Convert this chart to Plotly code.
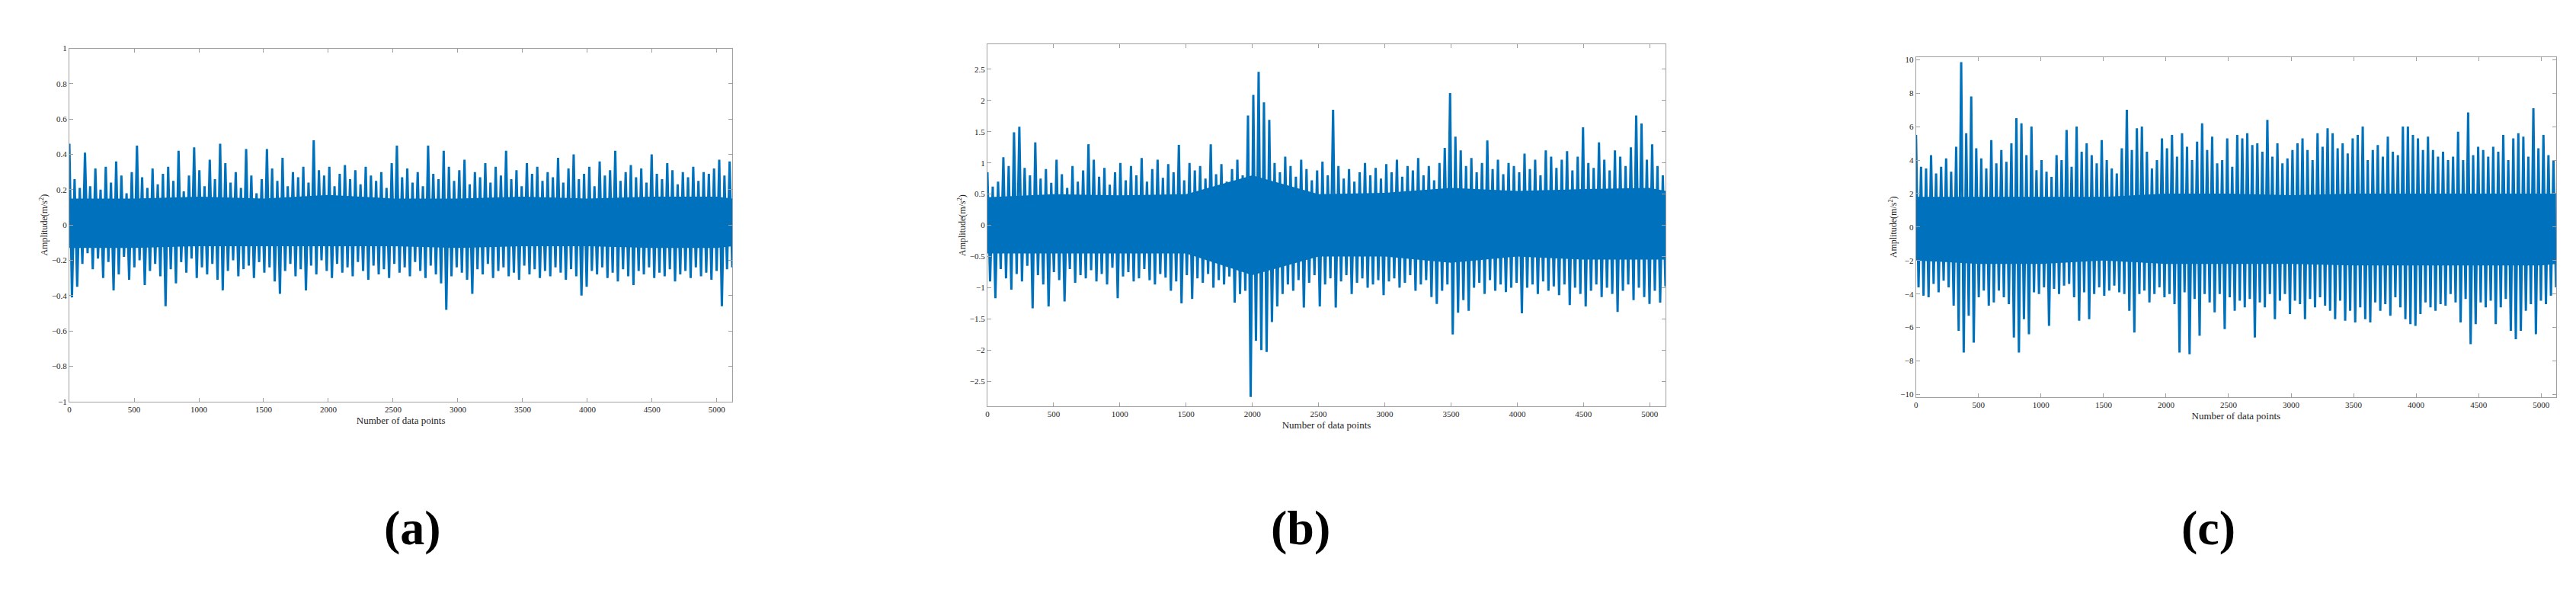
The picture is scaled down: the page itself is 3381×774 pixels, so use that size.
import plotly.graph_objects as go

# Panel (a) local maxima / minima (every ~40 samples)
A_up = [0.46,0.26,0.21,0.41,0.22,0.32,0.20,0.33,0.24,0.36,0.28,0.18,0.30,0.45,0.27,0.21,0.32,0.23,0.29,0.33,0.25,0.42,0.19,0.28,0.44,0.31,0.22,0.37,0.26,0.46,0.35,0.24,0.30,0.21,0.43,0.28,0.18,0.26,0.43,0.32,0.25,0.38,0.22,0.30,0.27,0.33,0.24,0.48,0.31,0.28,0.33,0.22,0.29,0.34,0.26,0.31,0.23,0.33,0.28,0.25,0.30,0.21,0.35,0.45,0.27,0.32,0.24,0.30,0.22,0.45,0.29,0.26,0.42,0.33,0.25,0.31,0.37,0.23,0.30,0.27,0.35,0.24,0.33,0.28,0.42,0.26,0.31,0.22,0.35,0.29,0.33,0.25,0.30,0.27,0.38,0.24,0.32,0.40,0.26,0.29,0.33,0.22,0.36,0.28,0.31,0.42,0.25,0.30,0.34,0.27,0.32,0.24,0.40,0.29,0.26,0.35,0.31,0.23,0.30,0.27,0.33,0.25,0.30,0.29,0.32,0.37,0.28,0.36]
A_dn = [-0.41,-0.35,-0.22,-0.16,-0.25,-0.19,-0.30,-0.21,-0.37,-0.28,-0.18,-0.31,-0.24,-0.20,-0.34,-0.26,-0.22,-0.29,-0.46,-0.25,-0.33,-0.21,-0.27,-0.19,-0.30,-0.24,-0.28,-0.22,-0.31,-0.37,-0.26,-0.20,-0.29,-0.25,-0.23,-0.30,-0.21,-0.27,-0.24,-0.32,-0.39,-0.26,-0.22,-0.29,-0.25,-0.37,-0.23,-0.28,-0.20,-0.26,-0.30,-0.22,-0.27,-0.24,-0.29,-0.21,-0.26,-0.31,-0.23,-0.28,-0.25,-0.30,-0.22,-0.27,-0.24,-0.29,-0.21,-0.26,-0.30,-0.23,-0.28,-0.33,-0.48,-0.29,-0.24,-0.27,-0.31,-0.39,-0.25,-0.28,-0.22,-0.30,-0.26,-0.24,-0.29,-0.27,-0.31,-0.23,-0.28,-0.25,-0.30,-0.26,-0.29,-0.24,-0.27,-0.31,-0.25,-0.29,-0.40,-0.35,-0.26,-0.28,-0.24,-0.30,-0.27,-0.32,-0.25,-0.29,-0.34,-0.26,-0.28,-0.24,-0.30,-0.27,-0.29,-0.25,-0.32,-0.28,-0.26,-0.30,-0.24,-0.29,-0.27,-0.31,-0.26,-0.46,-0.25,-0.24]

# Panel (b)
B_up = [0.85,0.62,0.70,1.09,0.95,1.49,1.58,0.92,0.80,1.33,0.75,0.90,0.68,1.05,0.82,0.60,0.95,0.70,0.88,1.30,1.05,0.78,0.92,0.65,0.85,1.00,0.72,0.95,0.80,1.08,0.70,0.90,1.05,0.76,0.98,0.85,1.29,0.72,1.00,0.88,0.95,0.75,1.30,0.82,0.98,0.70,0.90,1.05,0.80,1.76,2.09,2.46,1.97,1.69,1.00,0.85,1.10,0.95,0.78,1.05,0.90,0.72,0.88,1.02,0.80,1.85,0.95,0.75,0.90,0.70,0.85,1.00,0.80,0.92,0.75,0.98,0.85,1.05,0.78,0.95,0.88,1.08,0.80,0.95,0.72,1.00,1.24,2.12,1.42,1.20,0.95,1.08,0.85,1.00,1.36,0.90,1.05,0.82,1.00,0.95,0.85,1.15,0.90,1.05,0.80,1.20,1.10,0.92,1.05,1.19,0.88,1.10,1.57,1.00,0.92,1.33,1.05,0.88,1.20,1.10,0.95,1.25,1.76,1.63,1.05,1.30,0.95,0.80]
B_dn = [-0.90,-1.17,-0.70,-0.85,-1.03,-0.78,-0.90,-0.65,-1.33,-0.80,-0.95,-1.30,-0.75,-0.88,-1.22,-0.70,-0.92,-0.80,-0.85,-0.72,-0.90,-0.78,-0.95,-0.68,-1.17,-0.82,-0.75,-0.90,-0.85,-0.70,-0.88,-0.95,-0.78,-0.84,-1.05,-0.90,-1.25,-0.80,-1.18,-0.85,-0.92,-0.78,-1.00,-0.88,-0.95,-0.82,-1.24,-1.10,-1.05,-2.75,-1.85,-2.00,-2.03,-1.55,-1.30,-1.10,-0.95,-1.05,-0.88,-1.32,-0.92,-0.80,-1.30,-0.95,-0.85,-1.32,-0.90,-0.80,-1.10,-0.92,-0.85,-1.00,-0.95,-0.88,-1.12,-0.90,-0.85,-1.00,-0.92,-0.80,-1.05,-0.95,-0.88,-1.15,-1.26,-1.05,-0.95,-1.75,-1.40,-1.20,-1.37,-1.00,-0.92,-1.10,-0.88,-1.05,-0.95,-1.07,-1.00,-0.92,-1.41,-1.00,-0.95,-1.10,-0.90,-1.05,-0.98,-1.12,-0.95,-1.28,-1.00,-1.10,-1.30,-1.05,-0.95,-1.15,-1.00,-1.10,-1.39,-1.05,-0.95,-1.20,-1.00,-1.15,-1.26,-1.05,-1.24,-0.98]

# Panel (c)
C_up = [5.5,3.6,3.5,4.3,3.2,3.6,4.1,3.3,4.8,9.85,5.6,7.8,4.7,4.1,3.5,5.2,3.8,4.6,3.9,5.0,6.5,6.2,4.3,6.0,3.4,4.0,3.3,3.0,4.3,4.0,5.8,3.6,6.0,4.5,5.0,4.3,3.8,5.2,4.0,3.5,3.2,4.7,7.0,4.6,5.9,6.0,4.5,3.5,4.0,5.3,4.7,5.5,4.2,5.6,4.8,4.0,5.1,6.2,4.6,5.4,3.8,4.0,5.3,3.6,5.5,5.3,5.6,4.9,5.0,4.5,6.4,4.2,5.0,3.8,4.1,4.6,5.0,5.3,4.6,4.0,5.6,4.8,5.9,5.6,4.7,5.0,4.4,5.3,5.5,6.0,4.0,4.6,4.9,4.2,5.4,4.5,4.3,6.0,6.0,5.5,5.3,4.6,5.4,4.6,4.2,4.5,4.0,4.2,5.7,4.0,6.85,4.3,4.8,4.6,4.2,4.8,4.5,5.5,4.0,5.3,5.6,5.4,4.2,7.1,4.7,5.5,4.3,4.0]
C_dn = [-3.6,-4.1,-4.2,-3.4,-3.9,-3.2,-3.6,-4.7,-6.2,-7.5,-5.3,-6.9,-4.2,-3.8,-4.7,-4.5,-3.8,-4.2,-4.6,-6.6,-7.5,-5.5,-6.4,-3.9,-4.0,-3.6,-5.9,-3.7,-4.0,-3.5,-3.4,-4.2,-5.6,-3.9,-5.5,-4.0,-3.6,-4.1,-3.8,-3.5,-3.9,-4.0,-5.0,-6.3,-4.0,-3.8,-4.5,-4.0,-3.6,-4.2,-4.0,-4.6,-7.5,-3.9,-7.6,-4.3,-6.5,-4.0,-4.5,-5.1,-4.0,-6.1,-4.2,-5.0,-4.4,-4.8,-4.3,-6.6,-4.5,-4.8,-4.0,-5.5,-4.4,-4.0,-5.2,-4.4,-4.6,-5.5,-4.3,-4.8,-4.2,-4.7,-5.0,-5.5,-4.4,-5.6,-5.0,-5.7,-4.8,-5.5,-5.7,-4.5,-5.0,-4.6,-5.3,-4.2,-4.8,-5.5,-5.8,-5.9,-5.2,-4.5,-4.8,-5.0,-4.6,-4.7,-4.0,-4.5,-5.7,-4.3,-7.0,-5.8,-4.5,-4.8,-4.4,-5.8,-4.8,-4.3,-6.2,-6.7,-6.2,-5.0,-4.6,-6.4,-4.4,-4.6,-4.1,-3.6]

# Dense core of each signal (solid band), read every 500 samples: 0..5000 plus 5120
CORE_X = [0, 500, 1000, 1500, 2000, 2500, 3000, 3500, 4000, 4500, 5000, 5120]
A_core_up = [0.15, 0.15, 0.16, 0.15, 0.17, 0.15, 0.15, 0.16, 0.15, 0.16, 0.16, 0.15]
A_core_dn = [-0.13, -0.13, -0.12, -0.12, -0.12, -0.12, -0.13, -0.12, -0.12, -0.13, -0.13, -0.12]
B_core_up = [0.45, 0.50, 0.48, 0.50, 0.80, 0.50, 0.52, 0.60, 0.55, 0.58, 0.60, 0.55]
B_core_dn = [-0.45, -0.45, -0.45, -0.45, -0.80, -0.50, -0.50, -0.60, -0.50, -0.55, -0.55, -0.55]
C_core_up = [1.8, 1.8, 1.8, 1.8, 2.0, 2.0, 1.9, 2.0, 2.0, 2.0, 2.0, 2.0]
C_core_dn = [-2.0, -2.2, -2.2, -2.0, -2.2, -2.2, -2.2, -2.3, -2.3, -2.3, -2.3, -2.2]

N_POINTS = 5120
X_TICKS = [0, 500, 1000, 1500, 2000, 2500, 3000, 3500, 4000, 4500, 5000]
PANEL_LABELS = ["(a)", "(b)", "(c)"]
BLUE = "#0072BD"

def zig(up, dn):
    n = min(len(up), len(dn))
    ys = []
    for u, d in zip(up[:n], dn[:n]):
        ys += [u, d]
    step = (N_POINTS - 1) / (len(ys) - 1)
    xs = [i * step for i in range(len(ys))]
    return xs, ys

panels = [
    dict(up=A_up, dn=A_dn, cu=A_core_up, cd=A_core_dn, xd=[0.0237, 0.2813], yd=[0.327, 0.935], yr=[-1, 1], dt=0.2, lx=0.1455),
    dict(up=B_up, dn=B_dn, cu=B_core_up, cd=B_core_dn, xd=[0.3804, 0.6439], yd=[0.319, 0.942], yr=[-2.9, 2.9], dt=0.5, lx=0.502),
    dict(up=C_up, dn=C_dn, cu=C_core_up, cd=C_core_dn, xd=[0.7412, 0.9899], yd=[0.335, 0.920], yr=[-10.15, 10.15], dt=2, lx=0.866),
]

fig = go.Figure()
font = "Liberation Serif"
for k, p in enumerate(panels):
    xs, ys = zig(p["up"], p["dn"])
    s = "" if k == 0 else str(k + 1)
    fig.add_trace(go.Scatter(x=CORE_X + CORE_X[::-1], y=p["cu"] + p["cd"][::-1], mode="lines",
                             fill="toself", fillcolor=BLUE, line=dict(width=0, color=BLUE),
                             xaxis="x" + s, yaxis="y" + s, showlegend=False, hoverinfo="skip"))
    fig.add_trace(go.Scatter(x=xs, y=ys, mode="lines", line=dict(color=BLUE, width=3.0),
                             xaxis="x" + s, yaxis="y" + s, showlegend=False))
    ax = dict(domain=p["xd"], range=[0, N_POINTS], tickvals=X_TICKS, ticks="inside", ticklen=5,
              showline=True, mirror="ticks", linecolor="#a0a0a0", tickcolor="#a0a0a0",
              showgrid=False, zeroline=False, tickfont=dict(family=font, size=11, color="#222"),
              title=dict(text="Number of data points", font=dict(family=font, size=13, color="#222"), standoff=4),
              anchor="y" + s)
    ay = dict(domain=p["yd"], range=p["yr"], dtick=p["dt"], ticks="inside", ticklen=5,
              showline=True, mirror="ticks", linecolor="#a0a0a0", tickcolor="#a0a0a0",
              showgrid=False, zeroline=False, tickfont=dict(family=font, size=11, color="#222"),
              title=dict(text="Amplitude(m/s<sup>2</sup>)", font=dict(family=font, size=12, color="#222"), standoff=2),
              anchor="x" + s)
    fig.layout["xaxis" + s] = ax
    fig.layout["yaxis" + s] = ay
    fig.add_annotation(x=p["lx"], y=0.06, xref="paper", yref="paper", text="<b>" + PANEL_LABELS[k] + "</b>",
                       showarrow=False, font=dict(family=font, size=64, color="black"))

fig.update_layout(width=3381, height=774, margin=dict(l=0, r=0, t=0, b=0),
                  plot_bgcolor="white", paper_bgcolor="white")
fig.write_html("out.html")
